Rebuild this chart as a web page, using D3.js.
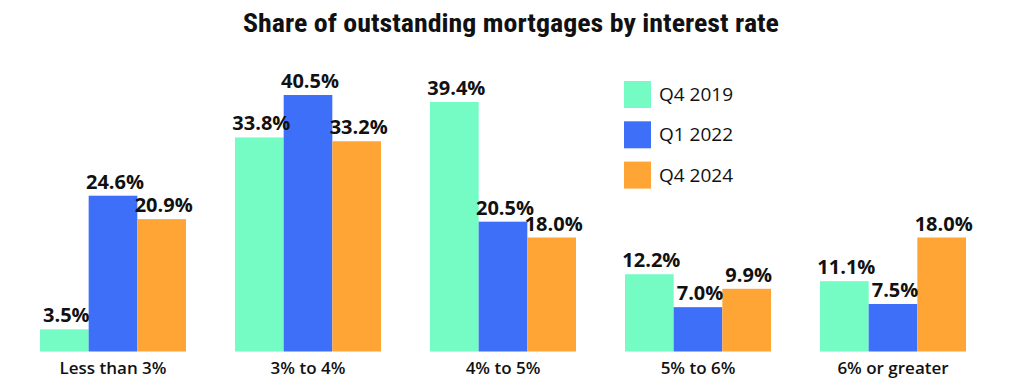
<!DOCTYPE html>
<html>
<head>
<meta charset="utf-8">
<script src="https://cdn.jsdelivr.net/npm/d3@7"></script>
<style>
  html, body { margin: 0; padding: 0; background: #fff; }
  svg { display: block; }
</style>
</head>
<body>
<div id="chart"></div>
<script>
const categories = ['Less than 3%', '3% to 4%', '4% to 5%', '5% to 6%', '6% or greater'];
const seriesNames = ['Q4 2019', 'Q1 2022', 'Q4 2024'];
const q4_2019 = [3.5, 33.8, 39.4, 12.2, 11.1];
const q1_2022 = [24.6, 40.5, 20.5, 7.0, 7.5];
const q4_2024 = [20.9, 33.2, 18.0, 9.9, 18.0];
const title = 'Share of outstanding mortgages by interest rate';

const W = 1024, H = 388;
const colors = ['#74fcc4', '#3d6ff8', '#ffa535'];
const seriesValues = [q4_2019, q1_2022, q4_2024];

const svg = d3.select('#chart').append('svg')
  .attr('width', W).attr('height', H)
  .attr('viewBox', `0 0 ${W} ${H}`);

// title
svg.append('text')
  .attr('x', 511).attr('y', 32)
  .attr('text-anchor', 'middle')
  .attr('font-family', '"Liberation Sans Narrow", "Roboto Condensed", Roboto, sans-serif')
  .attr('font-weight', 700).attr('font-size', 25)
  .attr('fill', '#111')
  .attr('textLength', 536).attr('lengthAdjust', 'spacingAndGlyphs')
  .text(title);

const x0 = d3.scaleBand().domain(categories).range([40, 966]).paddingInner(0.2513).paddingOuter(0);
const x1 = d3.scaleBand().domain(seriesNames).range([0, x0.bandwidth()]).padding(0);
const y = d3.scaleLinear().domain([0, 45]).range([351.5, 351.5 - 45 * 6.333]);

const rows = categories.map((c, i) => ({
  cat: c,
  vals: seriesNames.map((s, j) => ({ s, j, v: seriesValues[j][i] }))
}));

const groups = svg.append('g').selectAll('g.grp').data(rows).join('g')
  .attr('class', 'grp')
  .attr('transform', (d) => `translate(${x0(d.cat)},0)`);

groups.selectAll('rect').data((d) => d.vals).join('rect')
  .attr('x', (d) => x1(d.s))
  .attr('width', x1.bandwidth())
  .attr('y', (d) => y(d.v))
  .attr('height', (d) => y(0) - y(d.v))
  .attr('fill', (d) => colors[d.j]);

groups.selectAll('text.val').data((d) => d.vals).join('text')
  .attr('class', 'val')
  .attr('x', (d) => x1(d.s) + x1.bandwidth() / 2 + 2)
  .attr('y', (d) => y(d.v) - 7)
  .attr('text-anchor', 'middle')
  .attr('font-family', '"Open Sans", sans-serif')
  .attr('font-weight', 700).attr('font-size', 20)
  .attr('fill', '#111')
  .text((d) => d3.format('.1f')(d.v) + '%');

// category axis labels
const xAxis = d3.axisBottom(x0).tickSize(0).tickPadding(10);
const gx = svg.append('g').attr('transform', `translate(0,${y(0)})`).call(xAxis);
gx.select('.domain').remove();
gx.selectAll('text')
  .attr('font-family', '"Open Sans", sans-serif')
  .attr('font-weight', 600).attr('font-size', 17)
  .attr('fill', '#111');

// legend
const legend = svg.append('g').attr('transform', 'translate(624,81)');
const li = legend.selectAll('g').data(seriesNames).join('g')
  .attr('transform', (d, i) => `translate(0,${i * 40.3})`);
li.append('rect').attr('width', 27).attr('height', 27).attr('fill', (d, i) => colors[i]);
li.append('text')
  .attr('x', 35).attr('y', 13.5).attr('dy', '0.35em')
  .attr('font-family', '"Open Sans", sans-serif')
  .attr('font-size', 19).attr('fill', '#111')
  .text((d) => d);
</script>
</body>
</html>
